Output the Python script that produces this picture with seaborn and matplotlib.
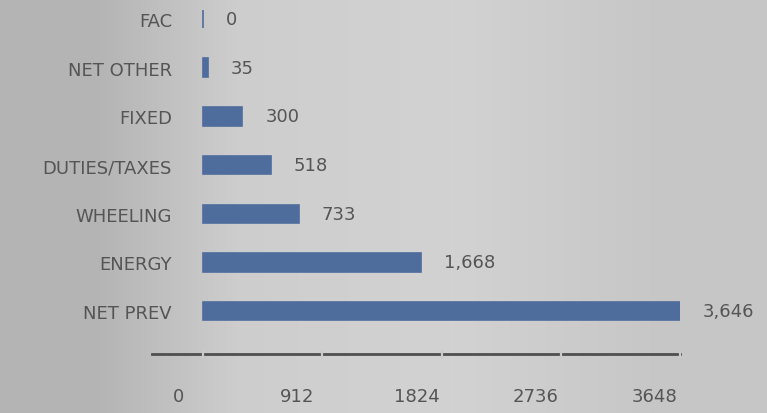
import matplotlib
matplotlib.use("Agg")
import matplotlib.pyplot as plt
import matplotlib.transforms as mtransforms
from matplotlib.colors import LinearSegmentedColormap
import seaborn as sns
import pandas as pd

categories = ["FAC", "NET OTHER", "FIXED", "DUTIES/TAXES", "WHEELING", "ENERGY", "NET PREV"]
values = [0, 35, 300, 518, 733, 1668, 3646]
value_labels = ["0", "35", "300", "518", "733", "1,668", "3,646"]
x_ticks = [0, 912, 1824, 2736, 3648]
x_tick_labels = ["0", "912", "1824", "2736", "3648"]

BG = "#cacaca"
BAR = "#4e6d9c"
TXT = "#555555"
FS = 13

sns.set_theme(style="white")
plt.rcParams["font.family"] = ["DejaVu Sans"]

fig = plt.figure(figsize=(7.67, 4.14), dpi=100)
fig.patch.set_facecolor(BG)

# photographic background shading
bg_ax = fig.add_axes([0, 0, 1, 1], zorder=-5)
cmap = LinearSegmentedColormap.from_list("bg", ["#b4b4b4", "#cdcdcd", "#d2d2d2", "#c6c6c6"])
bg_ax.imshow([[0.0, 0.45, 0.7, 1.0]], cmap=cmap, aspect="auto", interpolation="bilinear",
             extent=[0, 1, 0, 1], vmin=0, vmax=1)
bg_ax.set_axis_off()

ax = fig.add_axes([152 / 767, (414 - 355) / 414, (680 - 152) / 767, 355 / 414])
ax.set_facecolor("none")

df = pd.DataFrame({"category": categories, "value": values})
sns.barplot(data=df, x="value", y="category", orient="h", color=BAR, width=0.38,
            saturation=1, ax=ax, edgecolor=BAR, linewidth=1.2)

ax.set_xlim(-391, 3648)
ax.set_ylim(6.88, -0.41)

for i, (v, lab) in enumerate(zip(values, value_labels)):
    ax.annotate(lab, xy=(v, i), xytext=(23, 0), textcoords="offset pixels",
                ha="left", va="center", fontsize=FS, color=TXT, annotation_clip=False)

ax.set_xticks(x_ticks)
ax.set_xticklabels(x_tick_labels)
ax.set_xlabel("")
ax.set_ylabel("")

for s in ["top", "right", "left"]:
    ax.spines[s].set_visible(False)
ax.spines["bottom"].set_color("#4f4f4f")
ax.spines["bottom"].set_linewidth(2)
ax.spines["bottom"].set_zorder(2)
ax.xaxis.set_zorder(3)

ax.tick_params(axis="x", bottom=True, direction="inout", length=6, width=1.6, color=BG,
               labelsize=FS, labelcolor=TXT, pad=21)
ax.tick_params(axis="y", left=False, length=0, labelsize=FS, labelcolor=TXT, pad=-14.4)

shift = mtransforms.ScaledTranslation(-25 / 100, 0, fig.dpi_scale_trans)
for lbl in ax.get_xticklabels():
    lbl.set_transform(lbl.get_transform() + shift)

fig.savefig("out.png", dpi=100, facecolor=fig.get_facecolor())
